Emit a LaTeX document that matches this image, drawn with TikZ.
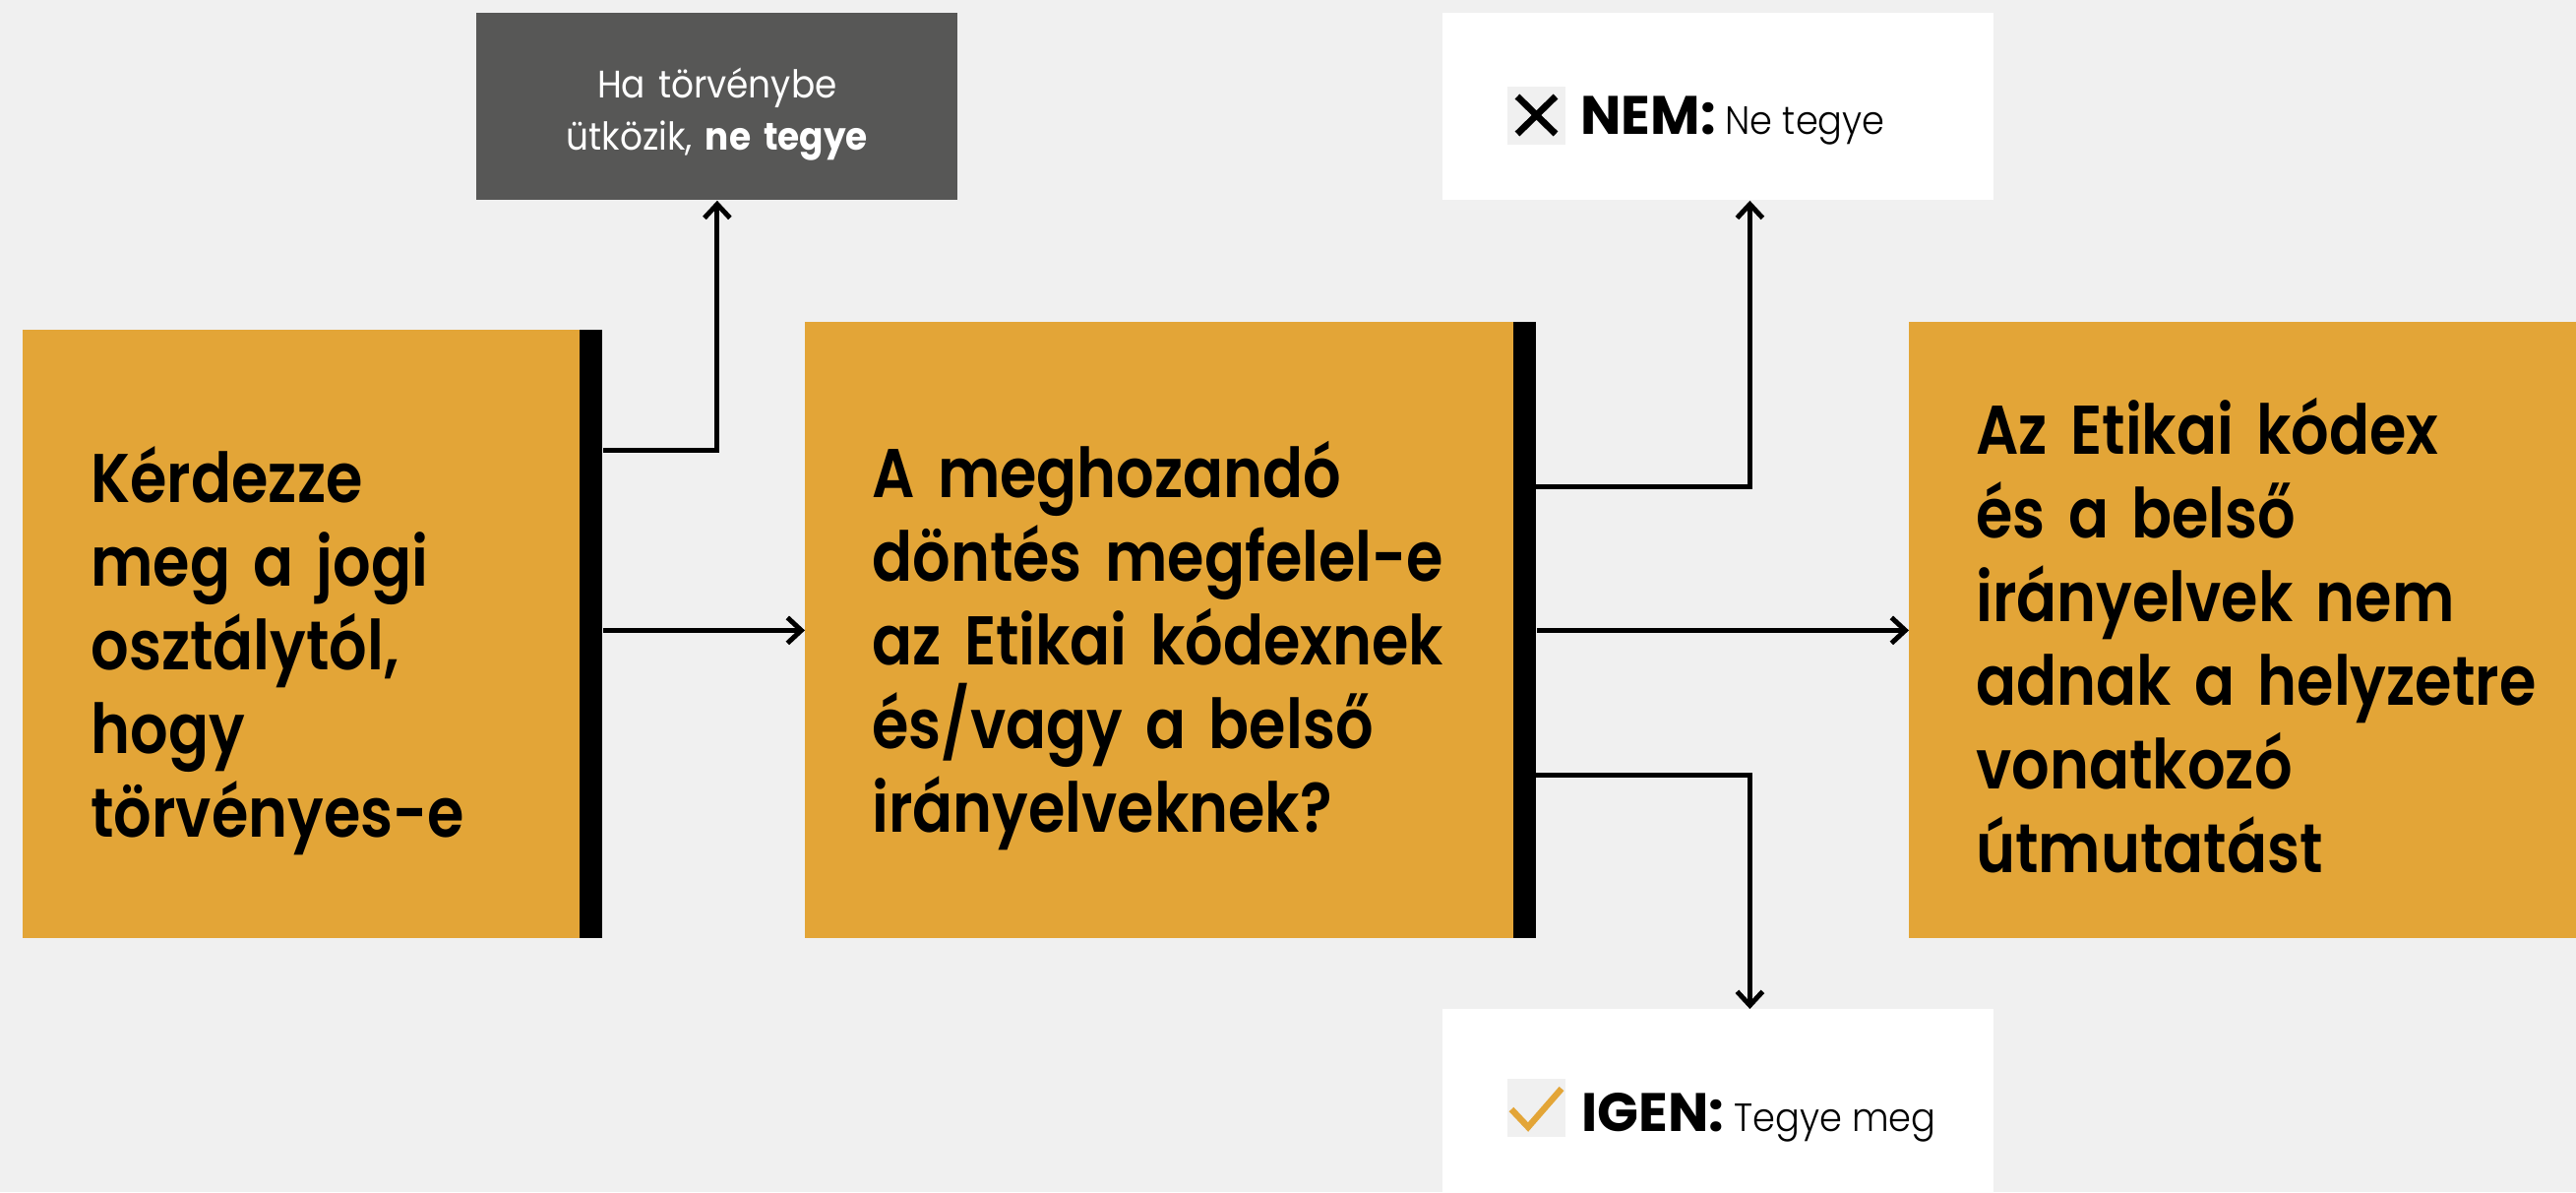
\documentclass[tikz,border=0pt]{standalone}
\usepackage{fontspec}
\setmainfont{Poppins}
\newfontfamily\boxfont{Poppins SemiBold}[FakeStretch=0.865]
\newfontfamily\narrowfont{Poppins}[FakeStretch=0.92]
\newfontfamily\lightfont{Poppins Light}[FakeStretch=0.92]
\usetikzlibrary{arrows.meta}
\definecolor{bgcol}{HTML}{F0F0F0}
\definecolor{ocher}{HTML}{E3A537}
\definecolor{darkbox}{HTML}{575756}

\begin{document}
\begin{tikzpicture}[x=0.5pt,y=-0.5pt,
  every node/.style={inner sep=0pt,anchor=north west},
  obox/.style={fill=ocher,minimum height=313pt},
  bar/.style={fill=black,minimum width=11.5pt,minimum height=313pt},
  otext/.style={anchor=base west,text width=340pt,align=left,
    font=\boxfont\fontsize{35}{42.5}\selectfont},
  wbox/.style={fill=white,minimum width=280pt,minimum height=95pt},
  lbl/.style={anchor=base west,font=\lightfont\fontsize{20}{24}\selectfont},
  conn/.style={line width=2.5pt,-{Straight Barb[length=7pt,width=13pt]}}]
\fill[bgcol] (0,0) rectangle (2618,1211);
\useasboundingbox (0,0) rectangle (2618,1211);
%\draw[help lines] (0,0) grid[xstep=100,ystep=100] (2618,1211);
\path
(23,335) node[obox,minimum width=283pt,minimum height=309pt] (K) {}
(589,335) node[bar,minimum height=309pt] (Kbar) {}
(818,327) node[obox,minimum width=360pt] (D) {}
(1538,327) node[bar] (Dbar) {}
(1940,327) node[obox,minimum width=350pt] (R) {}
(484,13) node[fill=darkbox,text=white,minimum width=244.5pt,minimum height=95pt,
  text width=244.5pt,align=center,text height=0pt,text depth=9pt,
  font=\narrowfont\fontsize{19.5}{26.5}\selectfont] (L) {Ha törvénybe\\ütközik, \textbf{ne tegye}}
(1466,13) node[wbox] (N) {}
(1466,1025) node[wbox] (I) {};
\path
(92,510) node[otext] (Ktext) {Kérdezze\\meg a jogi\\osztálytól,\\hogy\\törvényes-e}
(886,505) node[otext] (Dtext) {A meghozandó\\döntés megfelel-e\\az Etikai kódexnek\\és/vagy a belső\\irányelveknek?}
(2008,461) node[otext] (Rtext) {Az Etikai kódex\\és a belső\\irányelvek nem\\adnak a helyzetre\\vonatkozó\\útmutatást}
(1606,136) node[lbl] (Ntext) {{\rmfamily\bfseries\fontsize{27.5}{30}\selectfont NEM:} Ne tegye}
(1607,1149) node[lbl] (Itext) {{\rmfamily\bfseries\fontsize{27.5}{30}\selectfont IGEN:} Tegye meg};
% icons
\fill[bgcol] (1532,88) rectangle (1591,147);
\draw[line width=3.4pt] (1542,98) -- (1581,136) (1542,136) -- (1581,98);
\fill[bgcol] (1532,1096) rectangle (1591,1155);
\draw[ocher,line width=3.2pt] (1536,1127) -- (1553,1145) -- (1587,1106);
\coordinate (Kout) at (613,457);
\coordinate (Dup) at (1561,494);
\coordinate (Ddown) at (1561,787);
\draw[conn] (Kout) -| (L.south);
\draw[conn] (Kbar.east |- D.west) -- (D.west);
\draw[conn] (Dbar.east) -- (R.west);
\draw[conn] (Dup) -| ([xshift=16pt]N.south);
\draw[conn] (Ddown) -| ([xshift=16pt]I.north);
%\draw[conn] (Kbar.east) -- (D.west);
\end{tikzpicture}
\end{document}
